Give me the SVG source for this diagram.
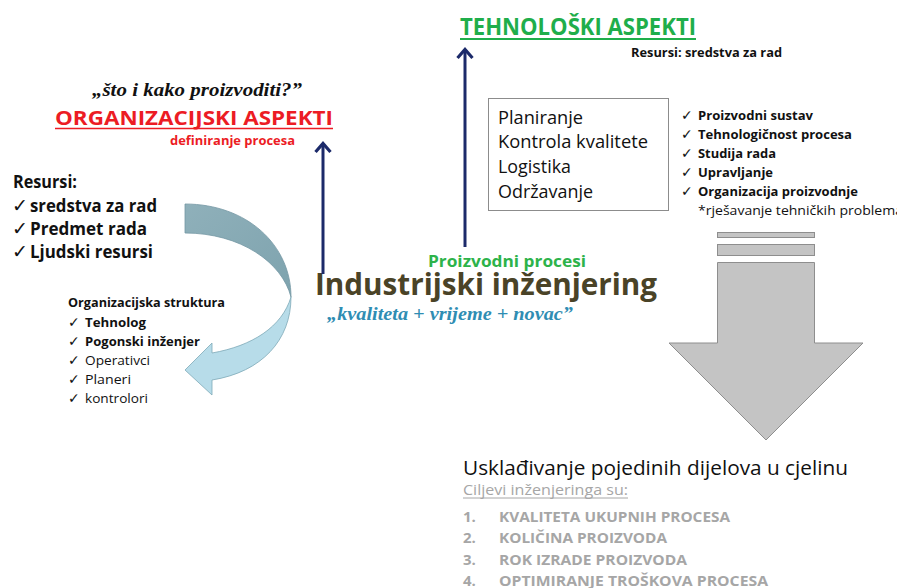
<svg xmlns="http://www.w3.org/2000/svg" width="897" height="588" viewBox="0 0 897 588">
<defs>
<style>
.c{font-family:"Open Sans","Liberation Sans",sans-serif}
.b{font-weight:bold}
.s{font-family:"Liberation Serif",serif;font-style:italic;font-weight:bold}
.ck{font-family:"DejaVu Sans",sans-serif}
.nav{stroke:#1c2a6a;stroke-width:3;fill:none}
.navh{stroke:#1c2a6a;stroke-width:3.2;fill:none;stroke-linejoin:miter;stroke-linecap:butt}
.gry{fill:#a6a6a6}
</style>
<linearGradient id="dk" x1="0" y1="0" x2="1" y2="1">
<stop offset="0" stop-color="#8fb0ba"/>
<stop offset="1" stop-color="#7ea3ae"/>
</linearGradient>
</defs>
<rect width="897" height="588" fill="#ffffff"/>

<g id="org-aspekti">
<text class="s" x="197" y="96" font-size="19" text-anchor="middle" textLength="210" lengthAdjust="spacingAndGlyphs" fill="#111">„što i kako proizvoditi?”</text>
<text class="c b" x="55" y="125" font-size="19" textLength="278" lengthAdjust="spacingAndGlyphs" fill="#ec1c24">ORGANIZACIJSKI ASPEKTI</text>
<line x1="55" y1="128.5" x2="333" y2="128.5" stroke="#ec1c24" stroke-width="1.6"/>
<text class="c b" x="170" y="145" font-size="13" textLength="125" lengthAdjust="spacingAndGlyphs" fill="#ec1c24">definiranje procesa</text>
</g>

<g id="resursi">
<text class="c b" x="13" y="188" font-size="18" textLength="64" lengthAdjust="spacingAndGlyphs" fill="#111">Resursi:</text>
<g class="ck" font-size="19" fill="#111">
<text x="12" y="212">✓</text><text x="12" y="235">✓</text><text x="12" y="258">✓</text>
</g>
<text class="c b" x="30" y="212" font-size="18" textLength="127" lengthAdjust="spacingAndGlyphs" fill="#111">sredstva za rad</text>
<text class="c b" x="30" y="235" font-size="18" textLength="117" lengthAdjust="spacingAndGlyphs" fill="#111">Predmet rada</text>
<text class="c b" x="30" y="258" font-size="18" textLength="123" lengthAdjust="spacingAndGlyphs" fill="#111">Ljudski resursi</text>
</g>

<g id="org-struktura">
<text class="c b" x="68" y="307" font-size="13" textLength="157" lengthAdjust="spacingAndGlyphs" fill="#111">Organizacijska struktura</text>
<g class="ck" font-size="14" fill="#111">
<text x="68" y="327">✓</text><text x="68" y="346">✓</text><text x="68" y="365">✓</text><text x="68" y="384">✓</text><text x="68" y="403">✓</text>
</g>
<text class="c b" x="85" y="327" font-size="13" textLength="61" lengthAdjust="spacingAndGlyphs" fill="#111">Tehnolog</text>
<text class="c b" x="85" y="346" font-size="13" textLength="115" lengthAdjust="spacingAndGlyphs" fill="#111">Pogonski inženjer</text>
<text class="c" x="85" y="365" font-size="13" textLength="65" lengthAdjust="spacingAndGlyphs" fill="#111">Operativci</text>
<text class="c" x="85" y="384" font-size="13" textLength="46" lengthAdjust="spacingAndGlyphs" fill="#111">Planeri</text>
<text class="c" x="85" y="403" font-size="13" textLength="63" lengthAdjust="spacingAndGlyphs" fill="#111">kontrolori</text>
</g>

<g id="curved-arrow">
<path d="M185,204 C247,204 291,245 291,297 C282,262 240,233 185,233 Z" fill="url(#dk)" stroke="#7497a3" stroke-width="0.8"/>
<path d="M291,297 C291,340 262,372 212,380 L212,395 L185,370 L212,343 L212,353 C252,346 282,327 291,297 Z" fill="#b7dce9" stroke="#7fa9b8" stroke-width="0.8"/>
</g>

<g id="tech-aspekti">
<text class="c b" x="460" y="35" font-size="23" textLength="236" lengthAdjust="spacingAndGlyphs" fill="#1fae4b">TEHNOLOŠKI ASPEKTI</text>
<line x1="460" y1="39" x2="696" y2="39" stroke="#1fae4b" stroke-width="1.8"/>
<text class="c b" x="631" y="57" font-size="13" textLength="151" lengthAdjust="spacingAndGlyphs" fill="#111">Resursi: sredstva za rad</text>
</g>

<g id="box">
<rect x="488.5" y="98.5" width="180" height="112" fill="#fff" stroke="#8c8c8c" stroke-width="1"/>
<text class="c" x="498" y="124" font-size="18" textLength="85" lengthAdjust="spacingAndGlyphs" fill="#111">Planiranje</text>
<text class="c" x="498" y="148" font-size="18" textLength="150" lengthAdjust="spacingAndGlyphs" fill="#111">Kontrola kvalitete</text>
<text class="c" x="498" y="173" font-size="18" textLength="73" lengthAdjust="spacingAndGlyphs" fill="#111">Logistika</text>
<text class="c" x="498" y="198" font-size="18" textLength="95" lengthAdjust="spacingAndGlyphs" fill="#111">Održavanje</text>
</g>

<g id="tech-list">
<g class="ck" font-size="14" fill="#111">
<text x="681" y="120">✓</text><text x="681" y="139">✓</text><text x="681" y="158">✓</text><text x="681" y="177">✓</text><text x="681" y="196">✓</text>
</g>
<text class="c b" x="698" y="120" font-size="13" textLength="115" lengthAdjust="spacingAndGlyphs" fill="#111">Proizvodni sustav</text>
<text class="c b" x="698" y="139" font-size="13" textLength="154" lengthAdjust="spacingAndGlyphs" fill="#111">Tehnologičnost procesa</text>
<text class="c b" x="698" y="158" font-size="13" textLength="78" lengthAdjust="spacingAndGlyphs" fill="#111">Studija rada</text>
<text class="c b" x="698" y="177" font-size="13" textLength="75" lengthAdjust="spacingAndGlyphs" fill="#111">Upravljanje</text>
<text class="c b" x="698" y="196" font-size="13" textLength="160" lengthAdjust="spacingAndGlyphs" fill="#111">Organizacija proizvodnje</text>
<text class="c" x="698" y="215" font-size="13" textLength="205" lengthAdjust="spacingAndGlyphs" fill="#111">*rješavanje tehničkih problema</text>
</g>

<g id="center">
<text class="c b" x="428" y="267" font-size="16" textLength="158" lengthAdjust="spacingAndGlyphs" fill="#2db34a">Proizvodni procesi</text>
<text class="c b" x="315" y="295" font-size="31" textLength="342" lengthAdjust="spacingAndGlyphs" fill="#4a4327">Industrijski inženjering</text>
<text class="s" x="327" y="320" font-size="19" textLength="246" lengthAdjust="spacingAndGlyphs" fill="#2f8db3">„kvaliteta + vrijeme + novac”</text>
</g>

<g id="connectors">
<line class="nav" x1="323" y1="274" x2="323" y2="145"/>
<polyline class="navh" points="315.5,152 323,143.5 330.5,152"/>
<line class="nav" x1="465" y1="247" x2="465" y2="51"/>
<polyline class="navh" points="457.5,58 465,49.5 472.5,58"/>
</g>

<g id="down-arrow">
<rect x="717.5" y="232.5" width="97" height="5" fill="#c4c4c4" stroke="#8e8e8e" stroke-width="1"/>
<rect x="717.5" y="244.5" width="97" height="11" fill="#c4c4c4" stroke="#8e8e8e" stroke-width="1"/>
<path d="M717.5,262.5 L814.5,262.5 L814.5,343 L863,343 L766,440 L669,343 L717.5,343 Z" fill="#c4c4c4" stroke="#8e8e8e" stroke-width="1"/>
</g>

<g id="ciljevi">
<text class="c" x="463" y="475" font-size="20" textLength="385" lengthAdjust="spacingAndGlyphs" fill="#111">Usklađivanje pojedinih dijelova u cjelinu</text>
<text class="c" x="463" y="495" font-size="15" textLength="165" lengthAdjust="spacingAndGlyphs" fill="#a6a6a6">Ciljevi inženjeringa su:</text>
<line x1="463" y1="498" x2="628" y2="498" stroke="#a6a6a6" stroke-width="1"/>
<g class="c b gry" font-size="15">
<text x="463" y="522">1.</text><text x="463" y="543">2.</text><text x="463" y="565">3.</text><text x="463" y="586">4.</text>
<text x="499" y="522" textLength="231" lengthAdjust="spacingAndGlyphs">KVALITETA UKUPNIH PROCESA</text>
<text x="499" y="543" textLength="168" lengthAdjust="spacingAndGlyphs">KOLIČINA PROIZVODA</text>
<text x="499" y="565" textLength="188" lengthAdjust="spacingAndGlyphs">ROK IZRADE PROIZVODA</text>
<text x="499" y="586" textLength="269" lengthAdjust="spacingAndGlyphs">OPTIMIRANJE TROŠKOVA PROCESA</text>
</g>
</g>
</svg>
